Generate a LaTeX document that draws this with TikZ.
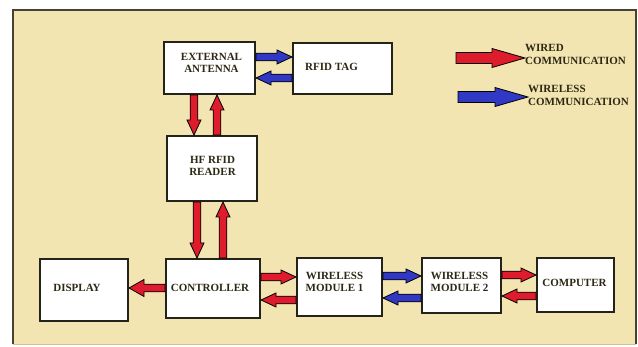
\documentclass[tikz,border=0pt]{standalone}
\usepackage{fontspec}
\setmainfont{Liberation Serif}
\usetikzlibrary{calc}
\definecolor{bgc}{RGB}{242,229,177}
\definecolor{framec}{RGB}{70,66,50}
\definecolor{boxc}{RGB}{35,35,25}
\definecolor{txtc}{RGB}{45,40,20}
\definecolor{wred}{RGB}{222,28,44}
\definecolor{wblue}{RGB}{48,56,196}
\def\fsw{3.8}\def\fhw{7}\def\fhl{15}
\tikzset{
  fsw/.code={\def\fsw{#1}},
  fhw/.code={\def\fhw{#1}},
  fhl/.code={\def\fhl{#1}},
  fat/.style={to path={let \p1=(\tikztostart),\p2=(\tikztotarget),
     \n1={veclen(\x2-\x1,\y2-\y1)},\n2={(\x2-\x1)/\n1},\n3={(\y2-\y1)/\n1} in
     ({\x1-\fsw*\n3},{\y1+\fsw*\n2})
     -- ({\x1+(\n1-\fhl)*\n2-\fsw*\n3},{\y1+(\n1-\fhl)*\n3+\fsw*\n2})
     -- ({\x1+(\n1-\fhl)*\n2-\fhw*\n3},{\y1+(\n1-\fhl)*\n3+\fhw*\n2})
     -- (\p2)
     -- ({\x1+(\n1-\fhl)*\n2+\fhw*\n3},{\y1+(\n1-\fhl)*\n3-\fhw*\n2})
     -- ({\x1+(\n1-\fhl)*\n2+\fsw*\n3},{\y1+(\n1-\fhl)*\n3-\fsw*\n2})
     -- ({\x1+\fsw*\n3},{\y1-\fsw*\n2}) -- cycle}},
  wired/.style={fat, fill=wred, draw=black, line width=0.8pt, line join=miter},
  wireless/.style={fat, fill=wblue, draw=black, line width=0.8pt, line join=miter},
  legendarrow/.style={fsw=5.5, fhw=9.5, fhl=33},
  box/.style={draw=boxc, fill=white, line width=1.8pt, inner sep=0pt},
  lbl/.style={font=\fontsize{11}{12}\selectfont\bfseries, text=txtc, align=center, inner sep=0pt},
  leg/.style={font=\fontsize{11}{13}\selectfont\bfseries, text=txtc, align=left, inner sep=0pt, anchor=west},
}
\begin{document}
\begin{tikzpicture}[x=1pt,y=1pt]
\useasboundingbox (0,0) rectangle (638,347);
% frame
\fill[bgc] (13,3) rectangle (636,337);
\draw[framec, line width=1.6pt] (13,3) -- (13,337) -- (636,337) -- (636,3);
\draw[bgc!85!black, line width=0.6pt] (13,3) -- (636,3);
% boxes
\node[box, minimum width=91.2pt, minimum height=52.2pt] (ant) at (209.5,279) {};
\node[box, minimum width=99.2pt, minimum height=51.2pt] (tag) at (342.5,278.5) {};
\node[box, minimum width=90.2pt, minimum height=65.2pt] (rdr) at (212,178.5) {};
\node[box, minimum width=88.2pt, minimum height=62.2pt] (disp) at (84,57) {};
\node[box, minimum width=94.2pt, minimum height=59.2pt] (ctrl) at (213,58.5) {};
\node[box, minimum width=85.2pt, minimum height=58.2pt] (wm1) at (339.5,60) {};
\node[box, minimum width=79.2pt, minimum height=55.2pt] (wm2) at (461.5,61.5) {};
\node[box, minimum width=77.2pt, minimum height=54.2pt] (comp) at (575.5,62) {};
% labels
\node[lbl] (tant) at (211.5,284) {EXTERNAL\\ANTENNA};
\node[lbl] (ttag) at (331.5,280) {RFID TAG};
\node[lbl] (trdr) at (212.5,181) {HF RFID\\READER};
\node[lbl] (tdisp) at (77,59) {DISPLAY};
\node[lbl] (tctrl) at (210,59) {CONTROLLER};
\node[lbl] (twm1) at (334.5,65) {WIRELESS\\MODULE 1};
\node[lbl] (twm2) at (459.5,65) {WIRELESS\\MODULE 2};
\node[lbl] (tcomp) at (574.5,64) {COMPUTER};
% helper coordinates for connector lines
\coordinate (xa) at (194,0);
\coordinate (xb) at (217,0);
\coordinate (xc) at (197,0);
\coordinate (xd) at (223,0);
\coordinate (ya) at (0,290);
\coordinate (yb) at (0,269);
\coordinate (yc) at (0,59);
\coordinate (yd) at (0,70);
\coordinate (ye) at (0,47);
\coordinate (yf) at (0,71);
\coordinate (yg) at (0,49);
\coordinate (yh) at (0,72);
\coordinate (yi) at (0,51);
% connectors
\draw[wired] (ant.south -| xa) to (rdr.north -| xa);
\draw[wired] (rdr.north -| xb) to (ant.south -| xb);
\draw[wired] (rdr.south -| xc) to (ctrl.north -| xc);
\draw[wired] (ctrl.north -| xd) to (rdr.south -| xd);
\draw[wireless] (ant.east |- ya) to (tag.west |- ya);
\draw[wireless] (tag.west |- yb) to (ant.east |- yb);
\draw[wired, fhw=8.5] (ctrl.west |- yc) to (disp.east |- yc);
\draw[wired] (ctrl.east |- yd) to (wm1.west |- yd);
\draw[wired] (wm1.west |- ye) to (ctrl.east |- ye);
\draw[wireless] (wm1.east |- yf) to (wm2.west |- yf);
\draw[wireless] (wm2.west |- yg) to (wm1.east |- yg);
\draw[wired] (wm2.east |- yh) to (comp.west |- yh);
\draw[wired] (comp.west |- yi) to (wm2.east |- yi);
% legend
\coordinate (l1s) at (456,289);
\coordinate (l1e) at (525,289);
\coordinate (l2s) at (458,250);
\coordinate (l2e) at (528,250);
\draw[wired, legendarrow] (l1s) to (l1e);
\draw[wireless, legendarrow] (l2s) to (l2e);
\node[leg] (lt1) at (525,292.5) {WIRED\\COMMUNICATION};
\node[leg] (lt2) at (528,251.5) {WIRELESS\\COMMUNICATION};
\end{tikzpicture}
\end{document}
